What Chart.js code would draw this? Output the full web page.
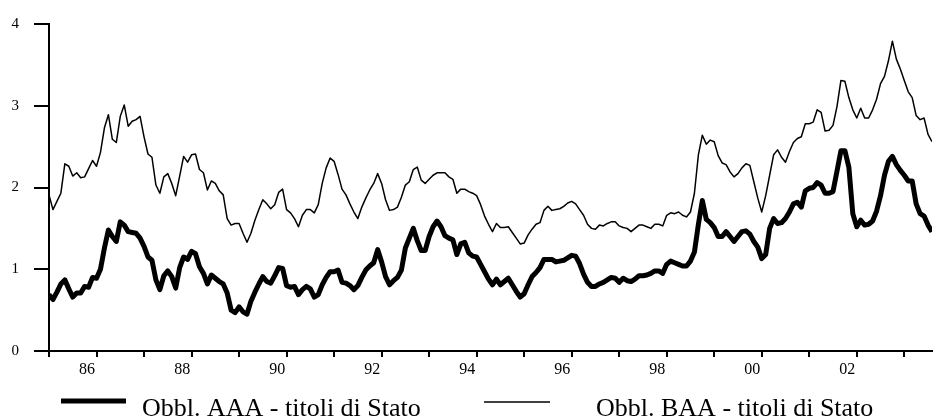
<!DOCTYPE html>
<html>
<head>
<meta charset="utf-8">
<script src="https://cdn.jsdelivr.net/npm/chart.js@4/dist/chart.umd.min.js"></script>
<style>
  html, body { margin: 0; padding: 0; background: #fff; }
  #wrap { width: 934px; height: 419px; }
</style>
</head>
<body>
<div id="wrap"><canvas id="c" width="934" height="419"></canvas></div>
<script>
// Monthly spreads (percentage points), one value per month, 224 months.
const aaaSpread = [
  0.69,0.63,0.72,0.82,0.87,0.76,0.66,0.71,0.71,0.79,0.78,0.90,
  0.89,1.00,1.26,1.48,1.40,1.34,1.58,1.54,1.46,1.45,1.44,1.38,
  1.28,1.15,1.11,0.87,0.75,0.92,0.98,0.91,0.77,1.02,1.15,1.12,
  1.22,1.19,1.03,0.95,0.82,0.93,0.89,0.85,0.82,0.71,0.50,0.47,
  0.54,0.48,0.45,0.61,0.72,0.82,0.91,0.85,0.83,0.92,1.02,1.01,
  0.80,0.78,0.79,0.69,0.75,0.79,0.76,0.66,0.69,0.81,0.90,0.97,
  0.97,0.99,0.84,0.83,0.80,0.75,0.80,0.90,0.99,1.04,1.08,1.24,
  1.09,0.91,0.81,0.86,0.90,0.99,1.26,1.38,1.50,1.35,1.23,1.23,
  1.40,1.52,1.59,1.52,1.41,1.38,1.36,1.18,1.31,1.33,1.20,1.16,
  1.15,1.06,0.97,0.88,0.81,0.88,0.81,0.85,0.89,0.81,0.73,0.66,
  0.70,0.81,0.91,0.96,1.02,1.12,1.12,1.12,1.09,1.10,1.11,1.14,
  1.17,1.16,1.07,0.94,0.84,0.79,0.79,0.82,0.84,0.87,0.90,0.89,
  0.84,0.89,0.86,0.85,0.88,0.92,0.92,0.93,0.95,0.98,0.98,0.95,
  1.06,1.10,1.08,1.06,1.04,1.04,1.10,1.21,1.55,1.84,1.61,1.57,
  1.51,1.40,1.40,1.46,1.40,1.34,1.40,1.46,1.47,1.43,1.34,1.27,
  1.13,1.18,1.50,1.62,1.56,1.57,1.62,1.70,1.80,1.82,1.76,1.96,
  1.99,2.00,2.06,2.03,1.93,1.93,1.95,2.20,2.45,2.45,2.25,1.68,
  1.52,1.60,1.54,1.55,1.59,1.71,1.90,2.15,2.32,2.38,2.28,2.21,
  2.15,2.08,2.08,1.80,1.68,1.65,1.54,1.46
];

const baaSpread = [
  1.91,1.73,1.83,1.93,2.29,2.26,2.14,2.18,2.12,2.13,2.23,2.33,
  2.26,2.43,2.73,2.89,2.59,2.55,2.87,3.01,2.75,2.81,2.83,2.87,
  2.62,2.41,2.37,2.03,1.93,2.13,2.17,2.05,1.90,2.14,2.38,2.31,
  2.40,2.41,2.22,2.18,1.97,2.08,2.05,1.96,1.91,1.62,1.54,1.56,
  1.56,1.44,1.33,1.44,1.60,1.73,1.85,1.80,1.74,1.79,1.94,1.98,
  1.73,1.69,1.62,1.52,1.66,1.73,1.73,1.69,1.79,2.05,2.24,2.36,
  2.32,2.16,1.98,1.91,1.80,1.70,1.62,1.76,1.87,1.97,2.05,2.17,
  2.05,1.85,1.72,1.73,1.76,1.88,2.03,2.07,2.22,2.25,2.09,2.05,
  2.10,2.15,2.18,2.18,2.18,2.13,2.10,1.93,1.98,1.98,1.95,1.93,
  1.90,1.79,1.65,1.55,1.46,1.56,1.51,1.51,1.52,1.45,1.38,1.31,
  1.32,1.42,1.49,1.55,1.57,1.72,1.77,1.72,1.73,1.74,1.77,1.81,
  1.83,1.80,1.73,1.66,1.55,1.50,1.49,1.54,1.53,1.56,1.58,1.58,
  1.53,1.51,1.50,1.46,1.50,1.54,1.54,1.52,1.50,1.55,1.55,1.53,
  1.66,1.69,1.68,1.70,1.66,1.64,1.70,1.93,2.40,2.64,2.53,2.58,
  2.56,2.39,2.30,2.28,2.19,2.13,2.17,2.24,2.29,2.27,2.07,1.87,
  1.70,1.90,2.15,2.40,2.46,2.37,2.31,2.44,2.55,2.60,2.62,2.78,
  2.78,2.80,2.95,2.92,2.69,2.70,2.76,2.99,3.31,3.30,3.10,2.95,
  2.85,2.97,2.85,2.85,2.95,3.08,3.27,3.36,3.55,3.79,3.57,3.45,
  3.31,3.17,3.10,2.88,2.83,2.85,2.65,2.56
];

// Yearly tick marks (month index) and the two-digit year labels on every other one.
const yearTickMonths = [0,12,24,36,48,60,72,84,96,108,120,132,144,156,168,180,192,204,216];
const yearLabels = ['86','88','90','92','94','96','98','00','02'];
const yTicks = [0, 1, 2, 3, 4];

const seriesNames = ['Obbl. AAA - titoli di Stato', 'Obbl. BAA - titoli di Stato'];

const serif = '"Liberation Serif", "Times New Roman", Times, serif';

// Legend drawn under the axis: a line sample followed by the series name.
const legendItems = [
  { lineFrom: 61, lineTo: 126, lineY: 401, textX: 142 },
  { lineFrom: 484, lineTo: 550, lineY: 402, textX: 596 }
];
const bottomLegend = {
  id: 'bottomLegend',
  afterDraw(chart) {
    const ctx = chart.ctx;
    ctx.save();
    chart.data.datasets.forEach((ds, i) => {
      const it = legendItems[i];
      ctx.strokeStyle = '#000';
      ctx.lineWidth = ds.borderWidth;
      ctx.lineCap = 'butt';
      ctx.beginPath();
      ctx.moveTo(it.lineFrom, it.lineY);
      ctx.lineTo(it.lineTo, it.lineY);
      ctx.stroke();
      ctx.fillStyle = '#000';
      ctx.font = '26px ' + serif;
      ctx.textBaseline = 'alphabetic';
      ctx.textAlign = 'left';
      ctx.fillText(ds.label, it.textX, 416);
    });
    ctx.restore();
  }
};

new Chart(document.getElementById('c'), {
  type: 'line',
  data: {
    datasets: [
      {
        label: seriesNames[0],
        data: aaaSpread.map((v, i) => ({ x: i, y: v })),
        borderColor: '#000',
        borderWidth: 5,
        borderJoinStyle: 'round',
        pointRadius: 0,
        tension: 0,
        fill: false
      },
      {
        label: seriesNames[1],
        data: baaSpread.map((v, i) => ({ x: i, y: v })),
        borderColor: '#000',
        borderWidth: 1.5,
        borderJoinStyle: 'round',
        pointRadius: 0,
        tension: 0,
        fill: false
      }
    ]
  },
  options: {
    responsive: false,
    devicePixelRatio: 1,
    animation: false,
    events: [],
    layout: { padding: { top: 24, right: 2, bottom: 38, left: 0 } },
    plugins: {
      legend: { display: false },
      tooltip: { enabled: false }
    },
    scales: {
      x: {
        type: 'linear',
        min: 0,
        max: aaaSpread.length - 1,
        afterBuildTicks(scale) {
          scale.ticks = yearTickMonths.map(v => ({ value: v }));
        },
        afterFit(scale) { scale.height = 30; },
        grid: {
          drawOnChartArea: false,
          drawTicks: true,
          tickLength: 6,
          lineWidth: 2,
          color: '#000'
        },
        border: { display: true, width: 2, color: '#000' },
        ticks: {
          autoSkip: false,
          maxRotation: 0,
          padding: 3,
          labelOffset: -9.4,
          color: '#000',
          font: { family: serif, size: 16 },
          callback(value) {
            const k = yearTickMonths.indexOf(value);
            return (k % 2 === 1) ? yearLabels[(k - 1) / 2] : '';
          }
        }
      },
      y: {
        type: 'linear',
        min: 0,
        max: 4,
        afterBuildTicks(scale) {
          scale.ticks = yTicks.map(v => ({ value: v }));
        },
        afterFit(scale) { scale.width = 49; },
        grid: {
          drawOnChartArea: false,
          drawTicks: true,
          tickLength: 15,
          lineWidth: 2,
          color: '#000'
        },
        border: { display: true, width: 2, color: '#000' },
        ticks: {
          padding: 15,
          color: '#000',
          font: { family: serif, size: 15 },
          callback(value) { return String(value); }
        }
      }
    }
  },
  plugins: [bottomLegend]
});
</script>
</body>
</html>
